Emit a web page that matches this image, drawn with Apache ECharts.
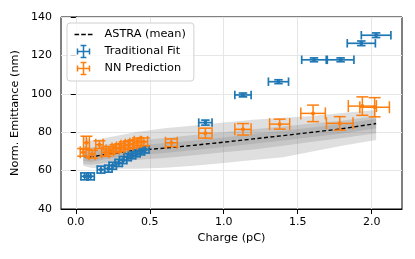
<!DOCTYPE html>
<html>
<head>
<meta charset="utf-8">
<script src="https://cdn.jsdelivr.net/npm/echarts@6/dist/echarts.min.js"></script>
<style>
html,body{margin:0;padding:0;background:#fff;}
#chart{width:415px;height:259px;}
</style>
</head>
<body>
<div id="chart"></div>
<script>
// ---- data ----
const xTicks = [0.0, 0.5, 1.0, 1.5, 2.0];
const yTicks = [40, 60, 80, 100, 120, 140];

// ASTRA simulation mean and spread bands
const bandX   = [0.05, 0.1, 0.2, 0.4, 0.6, 0.8, 1.0, 1.2, 1.4, 1.6, 1.8, 2.03];
const meanY   = [67.5, 67, 68.5, 70.5, 71.7, 73.2, 74.8, 76.5, 78.2, 80, 81.8, 84.5];
const outerHi = [78.5, 75.5, 77, 80, 82, 83.5, 85, 86.5, 87.5, 88.5, 90, 91.5];
const outerLo = [62.5, 61.5, 61, 61, 61.5, 62.5, 64, 65.5, 67, 70, 73, 76];
const midHi   = [73, 72, 73.5, 75.5, 77, 78.5, 80, 81.5, 83, 84.5, 86, 88.5];
const midLo   = [63.5, 63, 64, 65.5, 66.5, 68, 69.5, 71, 73, 75, 77, 79.5];
const innerHi = [70, 69.5, 71, 73, 74.2, 75.7, 77.3, 79, 80.7, 82.5, 84.3, 87];
const innerLo = [65, 64.5, 66, 68, 69.2, 70.7, 72.3, 74, 75.7, 77.5, 79.3, 82];

// Traditional Fit
const tradX  = [0.06, 0.10, 0.17, 0.22, 0.25, 0.29, 0.32, 0.35, 0.38, 0.41, 0.44, 0.47, 0.876, 1.13, 1.37, 1.61, 1.79, 1.93, 2.03];
const tradY  = [57, 57, 60.5, 61, 62.5, 64, 65.5, 67, 68, 69, 70, 71, 85, 99.4, 106.3, 117.7, 117.7, 126.3, 130.5];
const tradXe = [0.025, 0.025, 0.025, 0.025, 0.025, 0.025, 0.025, 0.025, 0.025, 0.025, 0.025, 0.025, 0.045, 0.055, 0.068, 0.083, 0.09, 0.095, 0.1];
const tradYe = [1.8, 1.8, 1.8, 1.8, 1.8, 1.8, 1.8, 1.8, 1.8, 1.8, 1.8, 1.8, 1.3, 1.0, 1.0, 1.0, 1.0, 1.2, 1.2];

// NN Prediction
const nnX  = [0.05, 0.072, 0.11, 0.16, 0.20, 0.23, 0.27, 0.30, 0.33, 0.36, 0.39, 0.42, 0.46, 0.646, 0.876, 1.13, 1.378, 1.604, 1.784, 1.937, 2.02];
const nnY  = [69.5, 74.5, 68.5, 73.5, 69.5, 70.5, 71.5, 72, 73, 73.5, 74, 75, 75, 74.5, 79.5, 81.5, 84.2, 89.8, 84.6, 93.6, 93];
const nnXe = [0.02, 0.02, 0.02, 0.025, 0.025, 0.025, 0.025, 0.025, 0.025, 0.025, 0.025, 0.025, 0.025, 0.04, 0.045, 0.055, 0.068, 0.083, 0.09, 0.095, 0.1];
const nnYe = [2, 3.4, 2, 2, 2, 2, 2, 2, 2, 2, 2, 2, 2, 2, 2.6, 3, 2.6, 4.3, 3.5, 4.8, 5];

// ---- chart ----
const BLUE = '#1f77b4', ORANGE = '#ff7f0e';
const FONT = 'DejaVu Sans';

function bandRender(lo, hi) {
  return function (params, api) {
    const pts = [];
    for (let i = 0; i < bandX.length; i++) pts.push(api.coord([bandX[i], hi[i]]));
    for (let i = bandX.length - 1; i >= 0; i--) pts.push(api.coord([bandX[i], lo[i]]));
    return { type: 'polygon', shape: { points: pts }, style: { fill: 'rgba(128,128,128,0.25)' } };
  };
}

function errRender(color, cap, lw) {
  return function (params, api) {
    const x = api.value(0), y = api.value(1), ex = api.value(2), ey = api.value(3);
    const c = api.coord([x, y]);
    const l = api.coord([x - ex, y]), r = api.coord([x + ex, y]);
    const t = api.coord([x, y + ey]), b = api.coord([x, y - ey]);
    const h = cap / 2;
    const st = { stroke: color, lineWidth: lw };
    const line = (x1, y1, x2, y2) => ({ type: 'line', shape: { x1, y1, x2, y2 }, style: st });
    return {
      type: 'group',
      children: [
        line(l[0], c[1], r[0], c[1]),
        line(c[0], t[1], c[0], b[1]),
        line(l[0], c[1] - h, l[0], c[1] + h),
        line(r[0], c[1] - h, r[0], c[1] + h),
        line(c[0] - h, t[1], c[0] + h, t[1]),
        line(c[0] - h, b[1], c[0] + h, b[1]),
        { type: 'circle', shape: { cx: c[0], cy: c[1], r: 2 }, style: { fill: color } }
      ]
    };
  };
}

const zip4 = (a, b, c, d) => a.map((v, i) => [v, b[i], c[i], d[i]]);
const errIcon = 'path://M5 0V10M0 5H10M2.6 0H7.4M2.6 10H7.4M0 2.6V7.4M10 2.6V7.4';
const dashIcon = 'path://M0 0V0M0 12V12M0 6H4.6M6.7 6H11.3M13.4 6H18';

const chart = echarts.init(document.getElementById('chart'), null, { renderer: 'canvas' });
chart.setOption({
  animation: false,
  backgroundColor: '#fff',
  textStyle: { fontFamily: FONT },
  grid: { left: 61, right: 13, top: 17, bottom: 50, show: true, borderColor: '#000', borderWidth: 1, backgroundColor: 'transparent' },
  legend: {
    orient: 'vertical', left: 67, top: 23,
    padding: [3, 8, 4, 5],
    itemWidth: 18, itemHeight: 12, itemGap: 0,
    backgroundColor: 'rgba(255,255,255,0.8)', borderColor: '#d0d0d0', borderWidth: 1, borderRadius: 3,
    textStyle: { fontFamily: FONT, fontSize: 11.3, lineHeight: 12, color: '#000', padding: [0, 0, 0, 7] },
    data: [
      { name: 'ASTRA (mean)', icon: dashIcon, itemStyle: { color: 'none', borderColor: '#000', borderWidth: 1.4 } },
      { name: 'Traditional Fit', icon: errIcon, itemStyle: { color: 'none', borderColor: BLUE, borderWidth: 1.5 } },
      { name: 'NN Prediction', icon: errIcon, itemStyle: { color: 'none', borderColor: ORANGE, borderWidth: 1.5 } }
    ]
  },
  xAxis: {
    type: 'value', min: -0.1, max: 2.205,
    name: 'Charge (pC)', nameLocation: 'middle', nameGap: 23,
    nameTextStyle: { fontFamily: FONT, fontSize: 11.3, color: '#000' },
    axisLine: { show: true, lineStyle: { color: '#000', width: 1 } },
    axisTick: { show: true, length: 5, lineStyle: { color: '#000' }, customValues: xTicks },
    axisLabel: { fontFamily: FONT, fontSize: 11, color: '#000', margin: 8, customValues: xTicks,
      formatter: v => v.toFixed(1) },
    splitLine: { show: false }
  },
  yAxis: {
    type: 'value', min: yTicks[0], max: yTicks[yTicks.length - 1], interval: 20,
    name: 'Norm. Emittance (nm)', nameLocation: 'middle', nameGap: 36,
    nameTextStyle: { fontFamily: FONT, fontSize: 11.3, color: '#000' },
    axisLine: { show: true, lineStyle: { color: '#000', width: 1 } },
    axisTick: { show: true, length: 5, lineStyle: { color: '#000' } },
    axisLabel: { fontFamily: FONT, fontSize: 11, color: '#000', margin: 9 },
    splitLine: { show: true, lineStyle: { color: '#e6e6e6', width: 1 } }
  },
  series: [
    { type: 'custom', z: 1, silent: true, renderItem: bandRender(outerLo, outerHi), data: [[bandX[0], meanY[0]]], encode: { x: 0, y: 1 } },
    { type: 'custom', z: 1, silent: true, renderItem: bandRender(midLo, midHi), data: [[bandX[0], meanY[0]]], encode: { x: 0, y: 1 } },
    { type: 'custom', z: 1, silent: true, renderItem: bandRender(innerLo, innerHi), data: [[bandX[0], meanY[0]]], encode: { x: 0, y: 1 } },
    {
      name: 'ASTRA (mean)', type: 'line', z: 2, symbol: 'none', silent: true,
      data: bandX.map((x, i) => [x, meanY[i]]),
      itemStyle: { color: '#000' },
      lineStyle: { color: '#000', width: 1.4, type: [4, 2.5] },
      markLine: {
        silent: true, symbol: 'none', label: { show: false }, z: 1,
        lineStyle: { color: '#e6e6e6', width: 1, type: 'solid' },
        data: xTicks.map(v => ({ xAxis: v }))
      }
    },
    {
      name: 'Traditional Fit', type: 'custom', z: 3,
      itemStyle: { color: BLUE },
      renderItem: errRender(BLUE, 8.5, 1.7),
      data: zip4(tradX, tradY, tradXe, tradYe), encode: { x: 0, y: 1 }
    },
    {
      name: 'NN Prediction', type: 'custom', z: 4,
      itemStyle: { color: ORANGE },
      renderItem: errRender(ORANGE, 12, 1.5),
      data: zip4(nnX, nnY, nnXe, nnYe), encode: { x: 0, y: 1 }
    }
  ]
});
</script>
</body>
</html>
